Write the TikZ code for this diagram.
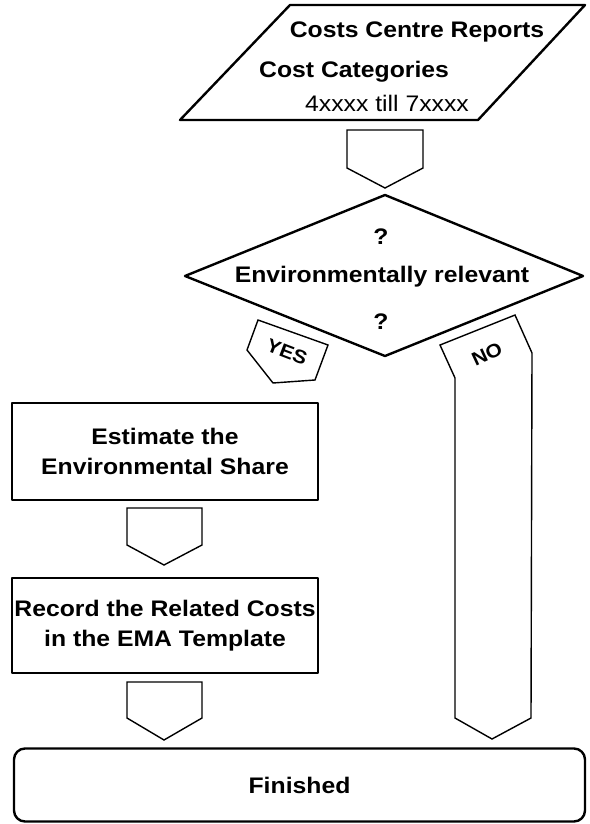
\documentclass[tikz,border=0pt]{standalone}
\usepackage{fontspec}
\setmainfont{Liberation Sans}[FakeStretch=1.1]
\begin{document}
\begin{tikzpicture}[x=1pt,y=-1pt,
  thickline/.style={line width=2.4pt,line join=round},
  medline/.style={line width=2pt,line join=round},
  thinline/.style={line width=1.4pt,line join=miter},
  lbl/.style={font=\fontsize{22.5}{30}\selectfont\bfseries,align=center,inner sep=0pt},
  plain/.style={font=\fontsize{22.5}{30}\selectfont,inner sep=0pt},
  tag/.style={font=\fontsize{19}{20}\selectfont\bfseries,inner sep=0pt},
  boxnode/.style={draw,medline,minimum width=306pt,inner sep=0pt}]
\useasboundingbox (0,0) rectangle (589,824);
% input parallelogram
\draw[thickline] (290,5) -- (585,5) -- (478,120) -- (180,120) -- cycle;
\node[lbl] (t1) at (417,32) {Costs Centre Reports};
\node[lbl,anchor=west] (t2) at (259,72) {Cost Categories};
\node[plain] (t3) at (387,103) {4xxxx till 7xxxx};
% arrow 1
\draw[thinline] (347,130) -- (423,130) -- (423,168) -- (385,188) -- (347,168) -- cycle;
% decision diamond
\draw[thickline] (385,195) -- (583,276) -- (385,356) -- (185,276) -- cycle;
\node[lbl] (q1) at (381,237) {?};
\node[lbl] (dec) at (382,277) {Environmentally relevant};
\node[lbl] (q2) at (381,322) {?};
% YES tag
\draw[thinline] (258,320) -- (328,345) -- (315,380) -- (273,383) -- (247,350) -- cycle;
\node[tag,rotate=-21] (yes) at (287,352) {YES};
% NO arrow
\draw[thinline] (440,345) -- (515,315) -- (532,353) -- (531,718) -- (492,739) -- (455,718) -- (455,378) -- cycle;
\node[tag,rotate=25] (no) at (487,354) {NO};
% box 1
\node[boxnode,minimum height=97pt,lbl] (b1) at (165,451.5) {Estimate the\\Environmental Share};
% arrow 2
\draw[thinline] (127,508) -- (202,508) -- (202,545) -- (164,565) -- (127,545) -- cycle;
% box 2
\node[boxnode,minimum height=95pt,lbl] (b2) at (165,625.5) {Record the Related Costs\\in the EMA Template};
% arrow 3
\draw[thinline] (127,682) -- (202,682) -- (202,718) -- (164,740) -- (127,718) -- cycle;
% finished
\node[draw,thickline,rounded corners=11pt,minimum width=571pt,minimum height=73pt,lbl] (fin) at (299.5,785) {Finished};
\end{tikzpicture}
\end{document}
